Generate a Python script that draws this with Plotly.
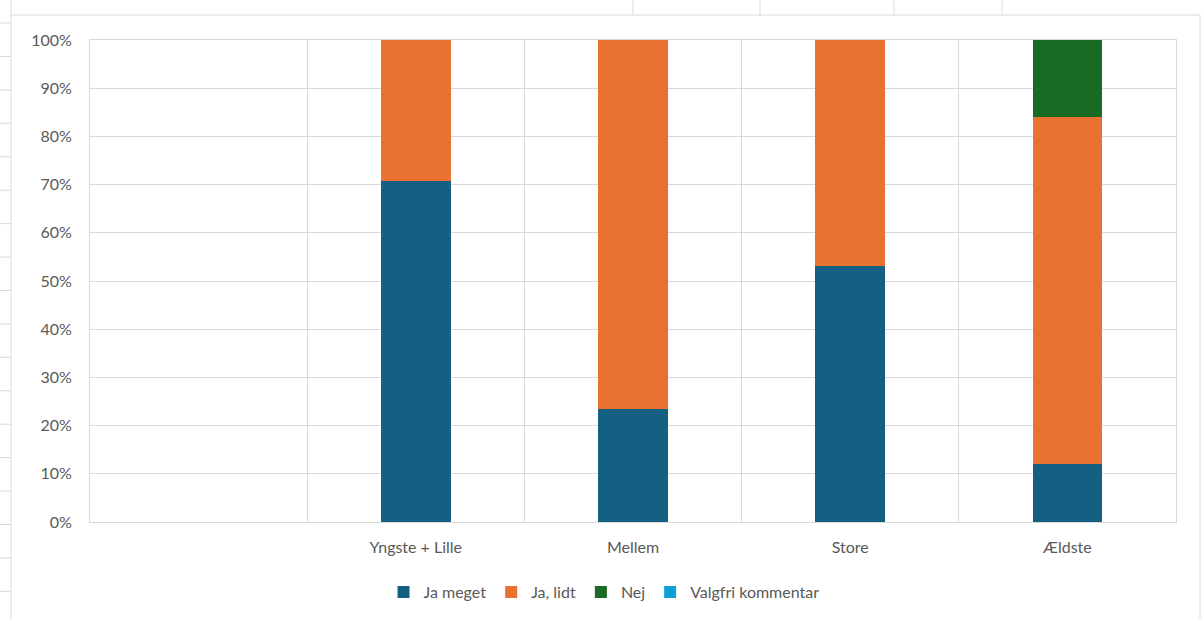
import plotly.graph_objects as go

categories = [" ", "Yngste + Lille", "Mellem", "Store", "Ældste"]
ja_meget = [None, 70.8, 23.5, 53.1, 12.0]
ja_lidt = [None, 29.2, 76.5, 46.9, 72.1]
nej = [None, 0, 0, 0, 15.9]
valgfri = [None, 0, 0, 0, 0]

series_names = ["Ja meget", "Ja, lidt", "Nej", "Valgfri kommentar"]
series_values = [ja_meget, ja_lidt, nej, valgfri]
series_colors = ["#156082", "#E97132", "#196B24", "#0F9ED5"]

y_ticks = list(range(0, 101, 10))
y_ticktext = [f"{v}%" for v in y_ticks]

W, H = 1202, 620
ML, MR, MT, MB = 90, 26, 40, 97
PW, PH = W - ML - MR, H - MT - MB

def px(x):
    return (x - ML) / PW

def py(y):
    return (H - MB - y) / PH

FONT = "Lato"
FS = 16
TXT = "#595959"
GRID = "#d9d9d9"

fig = go.Figure()
for name, vals, col in zip(series_names, series_values, series_colors):
    fig.add_trace(go.Bar(
        name=name, x=categories, y=vals,
        marker=dict(color=col, line=dict(width=0)),
    ))

# worksheet cell lines / chart frame decorations
shapes = []
lc = "#dadada"
shapes.append(dict(type="line", xref="paper", yref="paper", x0=px(11), x1=px(11), y0=py(0), y1=py(620), line=dict(color=lc, width=1)))
shapes.append(dict(type="line", xref="paper", yref="paper", x0=px(11), x1=px(1200), y0=py(15), y1=py(15), line=dict(color=lc, width=1)))
shapes.append(dict(type="line", xref="paper", yref="paper", x0=px(1200), x1=px(1200), y0=py(15), y1=py(620), line=dict(color=lc, width=1)))
for xv in [633, 760, 894, 1002]:
    shapes.append(dict(type="line", xref="paper", yref="paper", x0=px(xv), x1=px(xv), y0=py(0), y1=py(15), line=dict(color=lc, width=1)))
for k in range(18):
    yv = 23 + 33.5 * k
    shapes.append(dict(type="line", xref="paper", yref="paper", x0=px(0), x1=px(11), y0=py(yv), y1=py(yv), line=dict(color=lc, width=1)))

fig.update_layout(
    width=W, height=H,
    margin=dict(l=ML, r=MR, t=MT, b=MB, pad=0),
    barmode="stack", bargap=0.68,
    paper_bgcolor="white", plot_bgcolor="white",
    font=dict(family=FONT, size=FS, color=TXT),
    showlegend=True,
    legend=dict(orientation="h", x=px(604), xanchor="center", y=py(592), yanchor="middle",
                font=dict(family=FONT, size=FS, color=TXT), itemwidth=30, traceorder="normal"),
    shapes=shapes,
    xaxis=dict(type="category", tickson="boundaries", showgrid=True, gridcolor=GRID, gridwidth=1,
               showline=True, linecolor=GRID, mirror=True, ticks="", ticklabelstandoff=11,
               tickfont=dict(family=FONT, size=FS, color=TXT), fixedrange=True),
    yaxis=dict(range=[0, 100], tickvals=y_ticks, ticktext=y_ticktext, showgrid=True, gridcolor=GRID, gridwidth=1,
               showline=True, linecolor=GRID, mirror=True, ticks="", ticklabelstandoff=14, zeroline=False,
               tickfont=dict(family=FONT, size=FS, color=TXT), fixedrange=True),
)

fig.write_html("out.html", config={"displayModeBar": False},
               post_script="document.body.style.margin='0';document.body.style.overflow='hidden';")
